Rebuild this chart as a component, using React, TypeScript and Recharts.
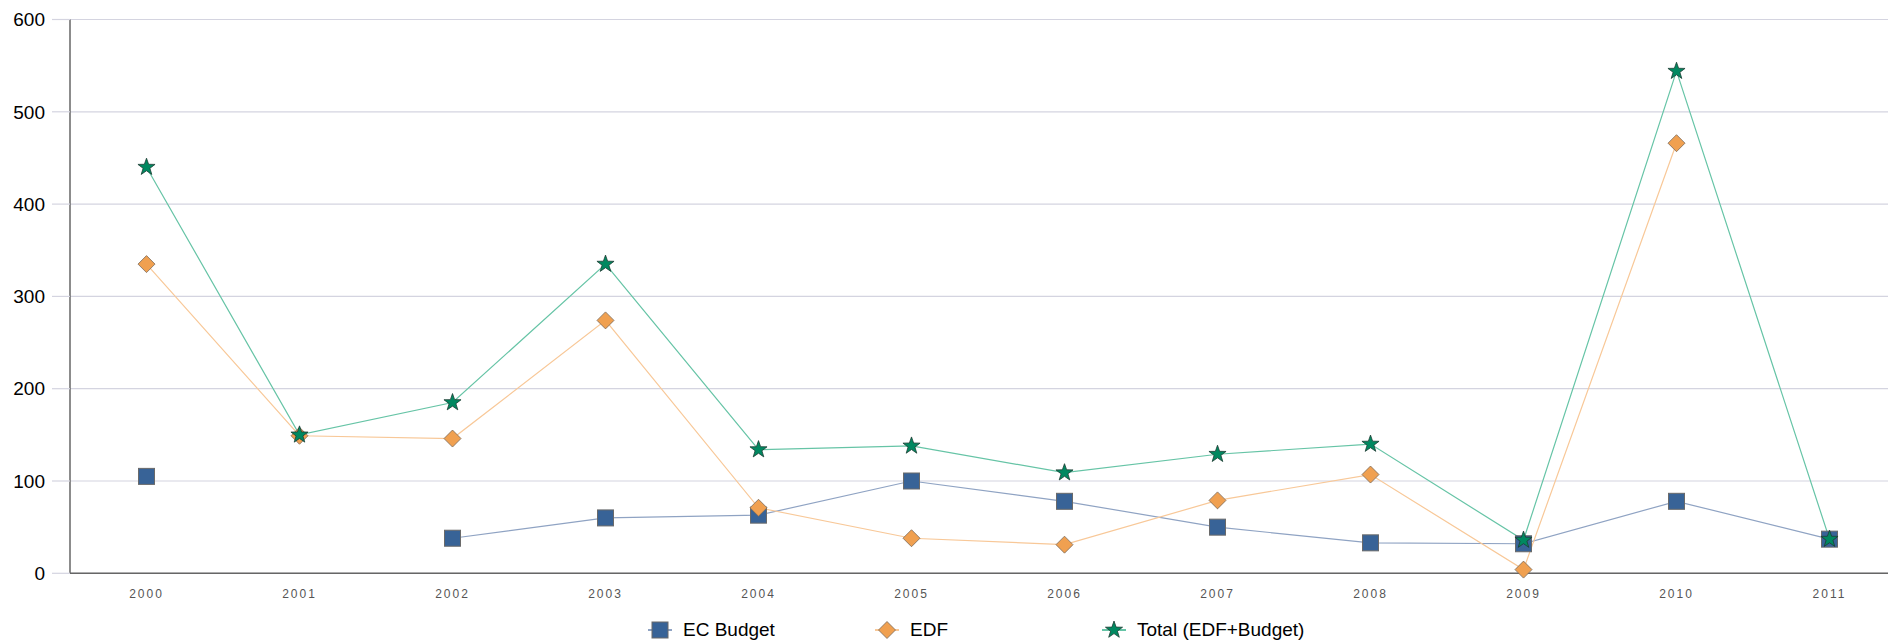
import React from 'react';
import { LineChart, Line, XAxis, YAxis, CartesianGrid, Legend } from 'recharts';

const years = ['2000', '2001', '2002', '2003', '2004', '2005', '2006', '2007', '2008', '2009', '2010', '2011'];
const ecBudget: (number | null)[] = [105, null, 38, 60, 63, 100, 78, 50, 33, 32, 78, 37];
const edf: (number | null)[] = [335, 149, 146, 274, 71, 38, 31, 79, 107, 4, 466, null];
const total: (number | null)[] = [440, 150, 185, 335, 134, 138, 109, 129, 140, 36, 544, 37];
const yTicks = [0, 100, 200, 300, 400, 500, 600];

const seriesNames = ['EC Budget', 'EDF', 'Total (EDF+Budget)'];

const data = years.map((y, i) => ({ year: y, ec: ecBudget[i], edf: edf[i], total: total[i] }));

const C = {
  ecFill: '#386397',
  ecLine: '#8fa3c3',
  edfFill: '#f0a050',
  edfLine: '#f8c898',
  totFill: '#008860',
  totLine: '#66c4a6',
  grid: '#d4d4e0',
  axis: '#666666',
};

const FONT = '"Liberation Sans", Arial, sans-serif';

function Square({ cx, cy }: { cx: number; cy: number }) {
  return <rect x={cx - 8} y={cy - 8} width={16} height={16} fill={C.ecFill} stroke="#6a6a6a" strokeWidth={1} />;
}
function Diamond({ cx, cy }: { cx: number; cy: number }) {
  const r = 8.5;
  return (
    <path d={`M${cx},${cy - r}L${cx + r},${cy}L${cx},${cy + r}L${cx - r},${cy}Z`} fill={C.edfFill} stroke="#7a6a5a" strokeWidth={0.8} />
  );
}
function Star({ cx, cy }: { cx: number; cy: number }) {
  const R = 9;
  const r = 3.6;
  let d = '';
  for (let i = 0; i < 10; i++) {
    const a = -Math.PI / 2 + (i * Math.PI) / 5;
    const rad = i % 2 === 0 ? R : r;
    d += (i === 0 ? 'M' : 'L') + (cx + rad * Math.cos(a)).toFixed(2) + ',' + (cy + rad * Math.sin(a)).toFixed(2);
  }
  return <path d={d + 'Z'} fill={C.totFill} stroke="#1d3d33" strokeWidth={0.8} />;
}

const makeDot = (Shape: any) => (props: any) => {
  const { cx, cy, index, value } = props;
  if (value === null || value === undefined || cy === null || cy === undefined || isNaN(cy)) {
    return <g key={`n-${index}`} />;
  }
  return (
    <g key={`d-${index}`}>
      <Shape cx={cx} cy={cy} />
    </g>
  );
};

const legendItems = [
  { name: seriesNames[0], line: C.ecLine, Shape: Square },
  { name: seriesNames[1], line: C.edfLine, Shape: Diamond },
  { name: seriesNames[2], line: C.totLine, Shape: Star },
];

function LegendContent() {
  return (
    <div style={{ height: 40, position: 'relative', width: 1888 }}>
      {legendItems.map((it, i) => (
        <div
          key={it.name}
          style={{ position: 'absolute', left: 648 + i * 227, top: 17, display: 'flex', alignItems: 'center', height: 24 }}
        >
          <svg width={24} height={24} style={{ display: 'block' }}>
            <line x1={0} y1={12} x2={24} y2={12} stroke={it.line} strokeWidth={2} />
            <it.Shape cx={12} cy={12} />
          </svg>
          <span style={{ marginLeft: 11, fontFamily: FONT, fontSize: 19, color: '#000', lineHeight: '24px', whiteSpace: 'nowrap' }}>
            {it.name}
          </span>
        </div>
      ))}
    </div>
  );
}

export default function App() {
  return (
    <div style={{ position: 'absolute', left: 0, top: 0, width: 1888, height: 641, overflow: 'hidden', background: '#fff' }}>
      <LineChart width={1906} height={641} data={data} margin={{ top: 19.5, right: 0, bottom: 0, left: 0 }}>
        <CartesianGrid vertical={false} stroke={C.grid} strokeWidth={1.2} />
        <XAxis
          dataKey="year"
          height={27.7}
          padding={{ left: 76.5, right: 76.5 }}
          axisLine={{ stroke: C.axis, strokeWidth: 1.5 }}
          tickLine={false}
          tickMargin={10}
          tick={{ fontSize: 12, fill: '#555', fontFamily: FONT, letterSpacing: 2 }}
          interval={0}
        />
        <YAxis
          width={70}
          domain={[0, 600]}
          ticks={yTicks}
          axisLine={{ stroke: C.axis, strokeWidth: 1.5 }}
          tickLine={{ stroke: C.grid, strokeWidth: 1.2 }}
          tickSize={18}
          tickMargin={7}
          tick={{ fontSize: 19, fill: '#000', fontFamily: FONT }}
        />
        <Legend verticalAlign="bottom" align="left" content={<LegendContent />} wrapperStyle={{ left: 0, width: 1888, height: 40 }} />
        <Line type="linear" dataKey="ec" name={seriesNames[0]} stroke={C.ecLine} strokeWidth={1.2} dot={makeDot(Square)} activeDot={false} isAnimationActive={false} />
        <Line type="linear" dataKey="edf" name={seriesNames[1]} stroke={C.edfLine} strokeWidth={1.2} dot={makeDot(Diamond)} activeDot={false} isAnimationActive={false} />
        <Line type="linear" dataKey="total" name={seriesNames[2]} stroke={C.totLine} strokeWidth={1.2} dot={makeDot(Star)} activeDot={false} isAnimationActive={false} />
      </LineChart>
    </div>
  );
}
